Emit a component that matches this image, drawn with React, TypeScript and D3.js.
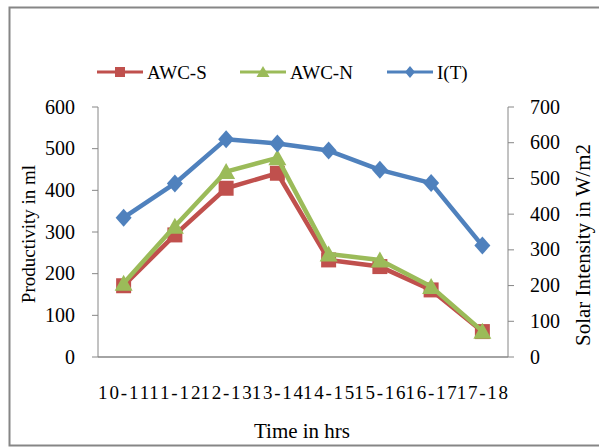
import React from "react";
import * as d3 from "d3";

// Hourly productivity of the two stills and the solar intensity
const categories = ["10-11", "11-12", "12-13", "13-14", "14-15", "15-16", "16-17", "17-18"];
const awcS = [171, 293, 405, 441, 233, 217, 161, 61];
const awcN = [177, 314, 445, 478, 247, 233, 169, 62];
const intensity = [390, 486, 610, 598, 578, 524, 487, 312];
const leftTicks = [0, 100, 200, 300, 400, 500, 600];
const rightTicks = [0, 100, 200, 300, 400, 500, 600, 700];

const W = 599;
const H = 447;
const plot = { left: 98, right: 508, top: 107, bottom: 357 };
const FONT = "'Liberation Serif', 'Times New Roman', serif";
const AXIS = "#868686";
const RED = "#C0504D";
const GREEN = "#9BBB59";
const BLUE = "#4F81BD";

type Marker = "square" | "triangle" | "diamond";

function markerPath(kind: Marker, size: number): string {
  const h = size / 2;
  if (kind === "square") return `M${-h},${-h}H${h}V${h}H${-h}Z`;
  if (kind === "triangle") return `M0,${-h - 1}L${h + 1.5},${h}L${-h - 1.5},${h}Z`;
  return `M0,${-h - 1}L${h},0L0,${h + 1}L${-h},0Z`;
}

export default function App() {
  const x = d3
    .scaleBand<string>()
    .domain(categories)
    .range([plot.left, plot.right])
    .paddingInner(0)
    .paddingOuter(0);
  const yL = d3.scaleLinear().domain([0, 600]).range([plot.bottom, plot.top]);
  const yR = d3.scaleLinear().domain([0, 700]).range([plot.bottom, plot.top]);
  const cx = (c: string) => (x(c) ?? 0) + x.bandwidth() / 2;

  const series = [
    { name: "AWC-S", values: awcS, scale: yL, color: RED, marker: "square" as Marker, size: 15 },
    { name: "AWC-N", values: awcN, scale: yL, color: GREEN, marker: "triangle" as Marker, size: 15 },
    { name: "I(T)", values: intensity, scale: yR, color: BLUE, marker: "diamond" as Marker, size: 16 },
  ];

  const legendItems = [
    { name: "AWC-S", color: RED, marker: "square" as Marker, x0: 97 },
    { name: "AWC-N", color: GREEN, marker: "triangle" as Marker, x0: 240 },
    { name: "I(T)", color: BLUE, marker: "diamond" as Marker, x0: 387 },
  ];
  const legendY = 72;

  return (
    <svg
      width={W}
      height={H}
      style={{ position: "absolute", left: 0, top: 0, background: "#fff" }}
      fontFamily={FONT}
    >
      <rect x={0} y={0} width={W} height={H} fill="#fff" />
      {/* chart frame */}
      <rect x={9.5} y={7.5} width={640} height={438} fill="none" stroke={AXIS} strokeWidth={2} />

      {/* legend */}
      {legendItems.map((it) => (
        <g key={it.name}>
          <line x1={it.x0} x2={it.x0 + 46} y1={legendY} y2={legendY} stroke={it.color} strokeWidth={3} />
          <path
            d={markerPath(it.marker, 10)}
            transform={`translate(${it.x0 + 23},${legendY})`}
            fill={it.color}
          />
          <text x={it.x0 + 50} y={legendY + 6.5} fontSize={19} fill="#000">
            {it.name}
          </text>
        </g>
      ))}

      {/* axes */}
      <line x1={plot.left} x2={plot.left} y1={plot.top} y2={plot.bottom} stroke={AXIS} strokeWidth={1} />
      <line x1={plot.right} x2={plot.right} y1={plot.top} y2={plot.bottom} stroke={AXIS} strokeWidth={1} />
      <line x1={plot.left} x2={plot.right} y1={plot.bottom} y2={plot.bottom} stroke={AXIS} strokeWidth={1.5} />

      {leftTicks.map((t) => (
        <g key={`l${t}`}>
          <line x1={plot.left - 6} x2={plot.left} y1={yL(t)} y2={yL(t)} stroke={AXIS} />
          <text x={75} y={yL(t) + 6.5} textAnchor="end" fontSize={20} fill="#000">
            {t}
          </text>
        </g>
      ))}
      {rightTicks.map((t) => (
        <g key={`r${t}`}>
          <line x1={plot.right} x2={plot.right + 6} y1={yR(t)} y2={yR(t)} stroke={AXIS} />
          <text x={530} y={yR(t) + 6.5} textAnchor="start" fontSize={20} fill="#000">
            {t}
          </text>
        </g>
      ))}

      {categories.map((c) => (
        <text
          key={c}
          x={cx(c)}
          y={399}
          textAnchor="middle"
          fontSize={19}
          fill="#000"
          textLength={x.bandwidth()}
          lengthAdjust="spacing"
        >
          {c}
        </text>
      ))}

      {/* axis titles */}
      <text x={302} y={438} textAnchor="middle" fontSize={21} fill="#000">
        Time in hrs
      </text>
      <text
        transform={`translate(35,${(plot.top + plot.bottom) / 2 + 2}) rotate(-90)`}
        textAnchor="middle"
        fontSize={19}
        fill="#000"
      >
        Productivity in ml
      </text>
      <text
        transform={`translate(590,245) rotate(-90)`}
        textAnchor="middle"
        fontSize={21}
        fill="#000"
      >
        Solar Intensity in W/m2
      </text>

      {/* series */}
      {series.map((s) => {
        const line = d3
          .line<number>()
          .x((_, i) => cx(categories[i]))
          .y((v) => s.scale(v));
        return (
          <g key={s.name}>
            <path d={line(s.values) ?? ""} fill="none" stroke={s.color} strokeWidth={4.5} strokeLinejoin="round" />
            {s.values.map((v, i) => (
              <path
                key={i}
                d={markerPath(s.marker, s.size)}
                transform={`translate(${cx(categories[i])},${s.scale(v)})`}
                fill={s.color}
              />
            ))}
          </g>
        );
      })}
    </svg>
  );
}
